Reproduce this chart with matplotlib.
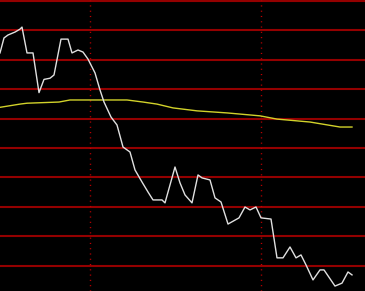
import numpy as np
import matplotlib
matplotlib.use("Agg")
from matplotlib import pyplot as plt

# price line (time position, price level)
t_price = [0, 4, 8, 15, 20, 22, 27, 33, 39, 44, 50, 54, 61, 68, 72, 78, 83, 88,
           95, 100, 104, 111, 117, 123, 130, 135, 142, 148, 153, 162, 165, 175,
           180, 185, 192, 198, 202, 210, 215, 221, 228, 239, 245, 250, 256, 261,
           271, 277, 283, 290, 296, 301, 306, 313, 320, 324, 335, 342, 348, 352]
price = [7.23, 7.74, 7.84, 7.94, 8.04, 8.11, 7.23, 7.23, 5.88, 6.33, 6.37, 6.48,
         7.70, 7.70, 7.23, 7.33, 7.26, 7.02, 6.55, 5.97, 5.56, 5.05, 4.78, 4.03,
         3.86, 3.25, 2.84, 2.50, 2.23, 2.23, 2.13, 3.35, 2.81, 2.40, 2.13, 3.08,
         2.98, 2.91, 2.30, 2.16, 1.41, 1.62, 1.99, 1.89, 1.99, 1.62, 1.58, 0.26,
         0.26, 0.63, 0.26, 0.36, 0.02, -0.49, -0.15, -0.15, -0.70, -0.60, -0.22,
         -0.32]

# moving average
t_ma = [0, 20, 27, 59, 70, 127, 143, 157, 173, 197, 227, 260, 277, 310, 340, 352]
ma = [5.38, 5.49, 5.52, 5.56, 5.63, 5.63, 5.56, 5.49, 5.36, 5.26, 5.19, 5.09,
      4.98, 4.88, 4.71, 4.71]

levels = np.arange(0, 10)
vlines = [89.5, 261]

fig = plt.figure(figsize=(3.65, 2.91), dpi=100, facecolor="black")
ax = fig.add_axes([0, 0, 1, 1])
ax.set_facecolor("black")

for lv in levels:
    ax.axhline(lv, color="#940000", lw=1.5, zorder=1)
for v in vlines:
    ax.axvline(v, color="#c00000", lw=1.0, ls=(0, (0.8, 3.0)), zorder=1)

ax.plot(t_ma, ma, color="#d2d22a", lw=1.0, zorder=2)
ax.plot(t_price, price, color="#e0e0e0", lw=1.0, zorder=3)

ax.set_xlim(0, 365)
ax.set_ylim((265.5 - 291) / 29.4, 265.5 / 29.4)
ax.axis("off")

fig.savefig("out.png", dpi=100, facecolor="black")
